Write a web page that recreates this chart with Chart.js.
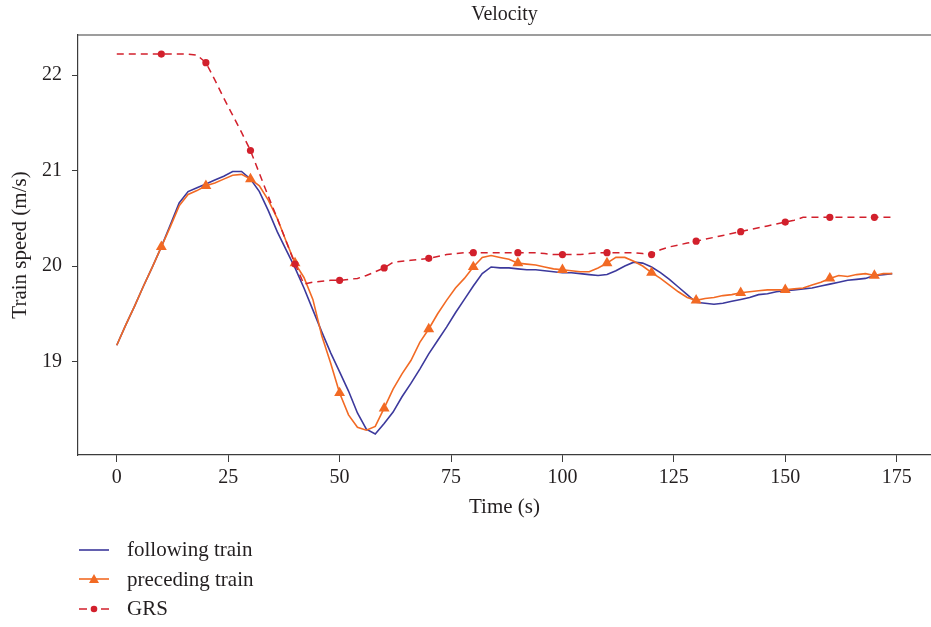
<!DOCTYPE html>
<html>
<head>
<meta charset="utf-8">
<title>Velocity</title>
<script src="https://cdn.jsdelivr.net/npm/chart.js@4.4.1/dist/chart.umd.min.js"></script>
<style>
    html, body { margin: 0; padding: 0; background: #fff; overflow: hidden; }
    #wrap { position: relative; width: 931px; height: 627px; }
    #legend {
        position: absolute; left: 79px; top: 535px;
        font-family: 'Liberation Serif', 'DejaVu Serif', serif;
        font-size: 21px; color: #231f20;
    }
    .legend-row { display: flex; align-items: center; height: 29.5px; }
    .legend-row svg { margin-right: 18px; }
</style>
</head>
<body>
<div id="wrap">
    <canvas id="velocityChart"></canvas>
    <div id="legend"></div>
</div>
<script>
// --- dados ---
const times = [0, 2, 4, 6, 8, 10, 12, 14, 16, 18, 20, 22, 24, 26, 28, 30, 32, 34, 36, 38,
    40, 42, 44, 46, 48, 50, 52, 54, 56, 58, 60, 62, 64, 66, 68, 70, 72, 74, 76, 78,
    80, 82, 84, 86, 88, 90, 92, 94, 96, 98, 100, 102, 104, 106, 108, 110, 112, 114, 116, 118,
    120, 122, 124, 126, 128, 130, 132, 134, 136, 138, 140, 142, 144, 146, 148, 150, 152, 154, 156, 158,
    160, 162, 164, 166, 168, 170, 172, 174];

const followingTrain = [19.17, 19.38, 19.58, 19.79, 19.99, 20.20, 20.43, 20.66, 20.78, 20.82,
    20.86, 20.90, 20.94, 20.99, 20.99, 20.91, 20.78, 20.58, 20.36, 20.17,
    19.98, 19.77, 19.54, 19.31, 19.09, 18.89, 18.69, 18.46, 18.29, 18.24,
    18.35, 18.47, 18.63, 18.77, 18.92, 19.08, 19.22, 19.36, 19.51, 19.65,
    19.79, 19.92, 19.99, 19.98, 19.98, 19.97, 19.96, 19.96, 19.95, 19.94,
    19.93, 19.93, 19.92, 19.91, 19.90, 19.91, 19.95, 20.00, 20.04, 20.03,
    19.99, 19.93, 19.86, 19.78, 19.70, 19.62, 19.61, 19.60, 19.61, 19.63,
    19.65, 19.67, 19.70, 19.71, 19.73, 19.74, 19.75, 19.76, 19.77, 19.79,
    19.81, 19.83, 19.85, 19.86, 19.87, 19.90, 19.91, 19.92];

const precedingTrain = [19.17, 19.38, 19.58, 19.79, 19.99, 20.20, 20.41, 20.63, 20.75, 20.79,
    20.84, 20.87, 20.91, 20.95, 20.96, 20.91, 20.84, 20.69, 20.50, 20.26,
    20.03, 19.88, 19.65, 19.27, 18.98, 18.67, 18.44, 18.31, 18.28, 18.32,
    18.51, 18.71, 18.87, 19.01, 19.20, 19.34, 19.50, 19.64, 19.77, 19.87,
    19.99, 20.09, 20.11, 20.09, 20.07, 20.03, 20.02, 20.01, 19.99, 19.97,
    19.96, 19.95, 19.94, 19.94, 19.98, 20.03, 20.09, 20.09, 20.05, 20.00,
    19.93, 19.87, 19.80, 19.73, 19.67, 19.64, 19.66, 19.67, 19.69, 19.70,
    19.72, 19.73, 19.74, 19.75, 19.75, 19.75, 19.76, 19.77, 19.80, 19.83,
    19.87, 19.90, 19.89, 19.91, 19.92, 19.90, 19.92, 19.92];

const grs = [22.22, 22.22, 22.22, 22.22, 22.22, 22.22, 22.22, 22.22, 22.22, 22.21,
    22.13, 21.95, 21.76, 21.58, 21.40, 21.21, 20.97, 20.73, 20.50, 20.26,
    20.02, 19.81, 19.83, 19.84, 19.85, 19.85, 19.86, 19.87, 19.90, 19.94,
    19.98, 20.04, 20.05, 20.06, 20.07, 20.08, 20.10, 20.12, 20.13, 20.14,
    20.14, 20.14, 20.14, 20.14, 20.14, 20.14, 20.14, 20.14, 20.13, 20.12,
    20.12, 20.12, 20.12, 20.13, 20.14, 20.14, 20.14, 20.14, 20.14, 20.13,
    20.12, 20.17, 20.20, 20.22, 20.24, 20.26, 20.28, 20.30, 20.32, 20.34,
    20.36, 20.38, 20.40, 20.42, 20.44, 20.46, 20.48, 20.51, 20.51, 20.51,
    20.51, 20.51, 20.51, 20.51, 20.51, 20.51, 20.51, 20.51];

const timeTicks = [0, 25, 50, 75, 100, 125, 150, 175];
const speedTicks = [19, 20, 21, 22];

// --- estilo ---
const FONT = "'Liberation Serif', 'DejaVu Serif', serif";
const TEXT = '#231f20';
const AXIS = '#3c3c3c';
const BLUE = '#3c399c';
const ORANGE = '#f26a24';
const RED = '#d2202c';

const toPoints = (vals) => times.map((t, i) => ({ x: t, y: vals[i] }));
const markerRadius = (r) => (ctx) => {
    const t = ctx.raw ? ctx.raw.x : 0;
    return (t > 0 && t <= 170 && t % 10 === 0) ? r : 0;
};

const frameTop = {
    id: 'frameTop',
    beforeDatasetsDraw(chart) {
        const { ctx, chartArea } = chart;
        ctx.save();
        ctx.strokeStyle = AXIS;
        ctx.lineWidth = 1.2;
        ctx.beginPath();
        ctx.moveTo(chartArea.left, chartArea.top);
        ctx.lineTo(chartArea.right, chartArea.top);
        ctx.stroke();
        ctx.restore();
    }
};

const ctx = document.getElementById('velocityChart');
const chart = new Chart(ctx, {
    type: 'line',
    data: {
        datasets: [
            {
                label: 'following train',
                data: toPoints(followingTrain),
                borderColor: BLUE,
                backgroundColor: BLUE,
                borderWidth: 1.6,
                pointRadius: 0,
                tension: 0,
                order: 2
            },
            {
                label: 'preceding train',
                data: toPoints(precedingTrain),
                borderColor: ORANGE,
                backgroundColor: ORANGE,
                borderWidth: 1.6,
                pointStyle: 'triangle',
                pointRadius: markerRadius(6.3),
                pointBorderWidth: 0,
                tension: 0,
                order: 1
            },
            {
                label: 'GRS',
                data: toPoints(grs),
                borderColor: RED,
                backgroundColor: RED,
                borderWidth: 1.5,
                borderDash: [7, 5],
                pointStyle: 'circle',
                pointRadius: markerRadius(3.6),
                pointBorderWidth: 0,
                tension: 0,
                order: 0
            }
        ]
    },
    options: {
        responsive: true,
        maintainAspectRatio: false,
        animation: false,
        layout: { padding: { left: 0, right: 0, top: 0, bottom: 107 } },
        scales: {
            x: {
                type: 'linear',
                min: -8.7,
                max: 182.7,
                afterBuildTicks: (scale) => { scale.ticks = timeTicks.map(v => ({ value: v })); },
                afterFit: (scale) => { scale.height = 65; },
                grid: {
                    drawOnChartArea: false,
                    drawTicks: true,
                    tickLength: 7,
                    tickColor: AXIS
                },
                border: { display: true, color: AXIS, width: 1.2 },
                ticks: {
                    autoSkip: false,
                    maxRotation: 0,
                    padding: 4,
                    color: TEXT,
                    font: { family: FONT, size: 20 }
                },
                title: {
                    display: true,
                    text: 'Time (s)',
                    color: TEXT,
                    font: { family: FONT, size: 21 },
                    padding: { top: 0, bottom: 0 }
                }
            },
            y: {
                min: 18.02,
                max: 22.42,
                afterBuildTicks: (scale) => { scale.ticks = speedTicks.map(v => ({ value: v })); },
                afterFit: (scale) => { scale.width = 78; },
                grid: {
                    drawOnChartArea: false,
                    drawTicks: true,
                    tickLength: 6,
                    tickColor: AXIS
                },
                border: { display: true, color: AXIS, width: 1.2 },
                ticks: {
                    autoSkip: false,
                    padding: 10,
                    color: TEXT,
                    font: { family: FONT, size: 20 }
                },
                title: {
                    display: true,
                    text: 'Train speed (m/s)',
                    color: TEXT,
                    font: { family: FONT, size: 21 },
                    padding: { top: 8, bottom: 0 }
                }
            }
        },
        plugins: {
            legend: { display: false },
            tooltip: { enabled: false },
            title: {
                display: true,
                text: 'Velocity',
                fullSize: false,
                color: TEXT,
                font: { family: FONT, size: 20, weight: 'normal' },
                padding: { top: 3, bottom: 8 }
            }
        }
    },
    plugins: [frameTop]
});

// --- legenda em HTML, montada a partir dos datasets ---
const legendEl = document.getElementById('legend');
const svgNS = 'http://www.w3.org/2000/svg';
chart.data.datasets.forEach((ds) => {
    const row = document.createElement('div');
    row.className = 'legend-row';
    const svg = document.createElementNS(svgNS, 'svg');
    svg.setAttribute('width', '30');
    svg.setAttribute('height', '14');
    const line = document.createElementNS(svgNS, 'line');
    line.setAttribute('x1', '0'); line.setAttribute('x2', '30');
    line.setAttribute('y1', '7'); line.setAttribute('y2', '7');
    line.setAttribute('stroke', ds.borderColor);
    line.setAttribute('stroke-width', '1.6');
    if (ds.borderDash) line.setAttribute('stroke-dasharray', '8 14 8');
    svg.appendChild(line);
    if (ds.pointStyle === 'triangle') {
        const tri = document.createElementNS(svgNS, 'polygon');
        tri.setAttribute('points', '15,2 20,11 10,11');
        tri.setAttribute('fill', ds.backgroundColor);
        svg.appendChild(tri);
    } else if (ds.pointStyle === 'circle') {
        const dot = document.createElementNS(svgNS, 'circle');
        dot.setAttribute('cx', '15'); dot.setAttribute('cy', '7'); dot.setAttribute('r', '3.3');
        dot.setAttribute('fill', ds.backgroundColor);
        svg.appendChild(dot);
    }
    const label = document.createElement('span');
    label.textContent = ds.label;
    row.appendChild(svg);
    row.appendChild(label);
    legendEl.appendChild(row);
});
</script>
</body>
</html>
